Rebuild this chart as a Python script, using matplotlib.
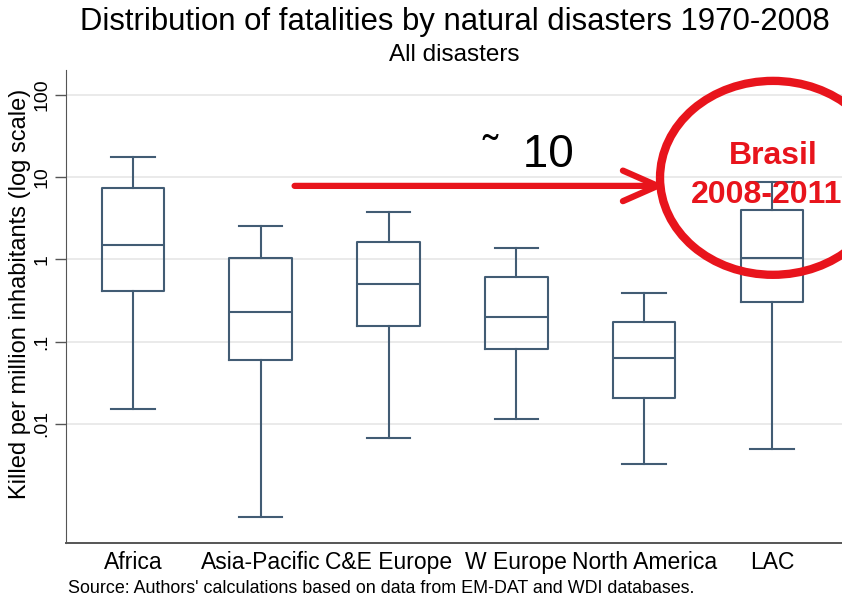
import matplotlib.pyplot as plt
from matplotlib.patches import Ellipse
from matplotlib.ticker import FixedLocator, NullLocator

plt.rcParams['font.family'] = ['Liberation Sans', 'DejaVu Sans']

# values (killed per million inhabitants)
regions = ['Africa', 'Asia-Pacific', 'C&E Europe', 'W Europe', 'North America', 'LAC']
whisker_lo = [0.0153, 0.00073, 0.0067, 0.0114, 0.00324, 0.00493]
q1 = [0.413, 0.0597, 0.155, 0.081, 0.0206, 0.303]
median = [1.50, 0.229, 0.502, 0.199, 0.063, 1.04]
q3 = [7.45, 1.04, 1.63, 0.61, 0.173, 3.99]
whisker_hi = [17.6, 2.55, 3.77, 1.38, 0.39, 8.75]

y_ticks = [0.01, 0.1, 1, 10, 100]
y_tick_labels = ['.01', '.1', '1', '10', '100']

box_col = '#425c74'
red = '#e8141c'

stats = []
for i in range(len(regions)):
    stats.append({
        'label': regions[i],
        'whislo': whisker_lo[i],
        'q1': q1[i],
        'med': median[i],
        'q3': q3[i],
        'whishi': whisker_hi[i],
        'fliers': [],
    })

fig = plt.figure(figsize=(8.42, 5.98), dpi=100)
ax = fig.add_axes([66 / 842, 55 / 598, 776 / 842, 473 / 598])

line = dict(color=box_col, linewidth=1.5)
ax.bxp(stats, positions=range(1, len(regions) + 1), widths=0.49, capwidths=0.34,
       showfliers=False, boxprops=line, whiskerprops=line, capprops=line,
       medianprops=line, zorder=3)

ax.set_yscale('log')
ax.set_ylim(0.000355, 201)
ax.set_xlim(0.476, 6.548)
ax.yaxis.set_major_locator(FixedLocator(y_ticks))
ax.yaxis.set_minor_locator(NullLocator())
ax.set_yticklabels(y_tick_labels, rotation=90, va='center', fontsize=14)
ax.tick_params(axis='y', length=8, width=1, color='#555555', pad=3)
ax.tick_params(axis='x', length=0, pad=6, labelsize=16.5)
ax.grid(axis='y', color='#e6e6e6', linewidth=1.2, zorder=0)
ax.set_ylabel('Killed per million inhabitants (log scale)', fontsize=17)
ax.yaxis.set_label_coords(-0.045, 0.526)

for s in ['top', 'right']:
    ax.spines[s].set_visible(False)
ax.spines['left'].set_color('#555555')
ax.spines['bottom'].set_color('#555555')
ax.spines['bottom'].set_linewidth(1.4)

fig.text(0.540, 0.963, 'Distribution of fatalities by natural disasters 1970-2008',
         ha='center', va='center', fontsize=22.4)
fig.text(0.539, 0.908, 'All disasters', ha='center', va='center', fontsize=17.5)
fig.text(68 / 842, 0.0167, "Source: Authors' calculations based on data from EM-DAT and WDI databases.",
         ha='left', va='center', fontsize=12.85)

# annotation: arrow, factor ~10 and the circled Brasil box
ax.annotate('', xy=(0.776, 0.755), xytext=(0.291, 0.755), xycoords='axes fraction',
            arrowprops=dict(arrowstyle='->,head_length=1.25,head_width=0.55',
                            mutation_scale=20, color=red, lw=4.5), zorder=5)
ax.text(0.537, 0.795, '\u02dc  10', transform=ax.transAxes, ha='left', va='baseline',
        fontsize=33)
ax.add_patch(Ellipse((0.911, 0.772), 0.291, 0.41, transform=ax.transAxes,
                     fill=False, edgecolor=red, linewidth=6, clip_on=False, zorder=6))
ax.text(0.911, 0.818, 'Brasil', transform=ax.transAxes, ha='center', va='center',
        fontsize=23, fontweight='bold', color=red, zorder=7)
ax.text(0.903, 0.736, '2008-2011', transform=ax.transAxes, ha='center', va='center',
        fontsize=23, fontweight='bold', color=red, zorder=7)

fig.savefig('out.png', dpi=100)
